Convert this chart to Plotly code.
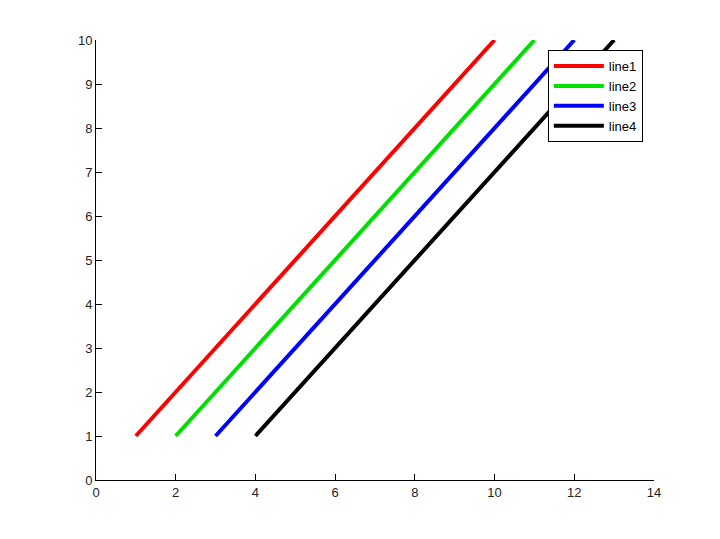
import plotly.graph_objects as go

names = ["line1", "line2", "line3", "line4"]
colors = ["#ff0000", "#00e000", "#0000ff", "#000000"]
x_start = [1, 2, 3, 4]
x_end = [10, 11, 12, 13]
y_start = [1, 1, 1, 1]
y_end = [10, 10, 10, 10]

fig = go.Figure()
for n, c, x0, x1, y0, y1 in zip(names, colors, x_start, x_end, y_start, y_end):
    fig.add_trace(go.Scatter(x=[x0, x1], y=[y0, y1], mode="lines", name=n,
                             line=dict(color=c, width=4)))

axis_style = dict(showgrid=False, zeroline=False, showline=True, linecolor="black",
                  linewidth=1, ticks="inside", ticklen=6, tickcolor="black",
                  tickfont=dict(family="Liberation Sans", size=13, color="#222"))
fig.update_xaxes(range=[0, 14], dtick=2, **axis_style)
fig.update_yaxes(range=[0, 10], dtick=1, **axis_style)

fig.update_layout(
    width=720, height=539, plot_bgcolor="white", paper_bgcolor="white",
    margin=dict(l=88, r=74, t=32, b=67),
    legend=dict(x=0.98, y=0.977, xanchor="right", yanchor="top",
                bordercolor="black", borderwidth=1, bgcolor="white",
                itemwidth=50, tracegroupgap=0,
                font=dict(family="Liberation Sans", size=13, color="black")),
)
fig.write_html("out.html")
